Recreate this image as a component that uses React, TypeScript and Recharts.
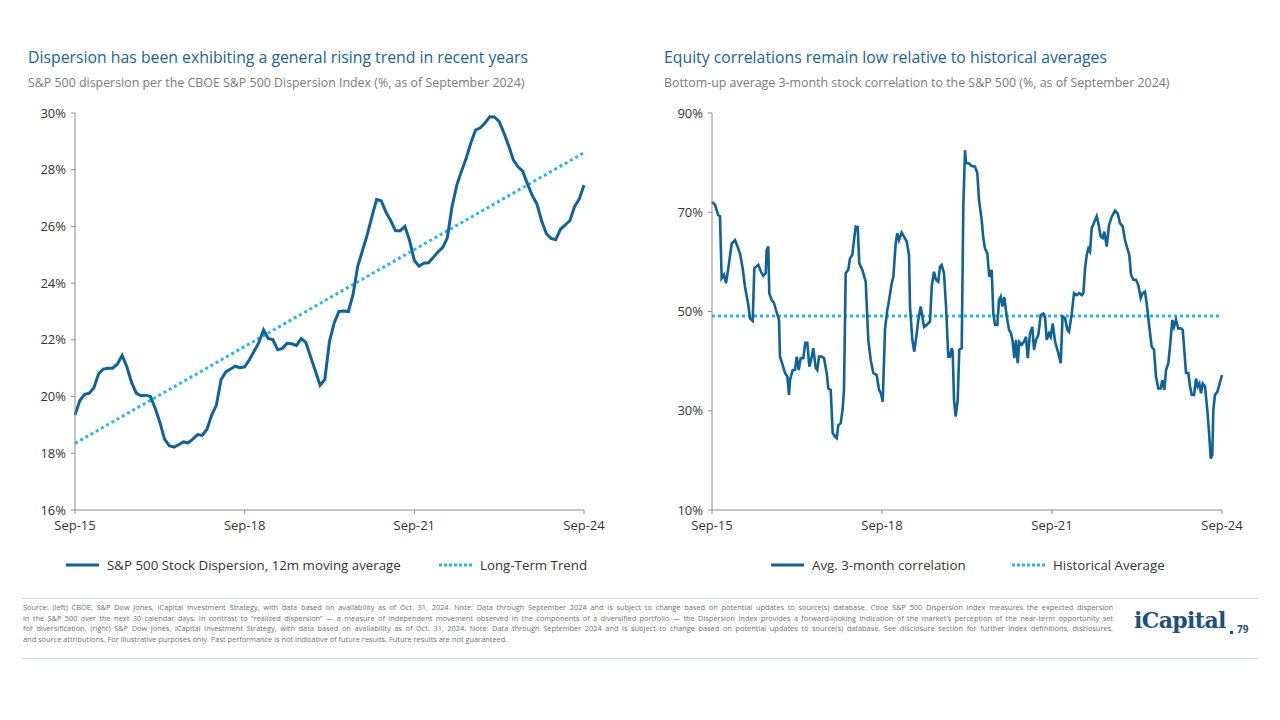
import React from "react";
import { LineChart, Line, XAxis, YAxis } from "recharts";

// ---------- Left chart data (monthly, Sep-15 .. Sep-24) ----------
const dispersionValues: number[] = [
  19.35, 19.85, 20.07, 20.12, 20.3, 20.8, 20.97, 21.0, 21.0, 21.15,
  21.45, 21.05, 20.5, 20.12, 20.03, 20.05, 20.0, 19.6, 19.1, 18.5,
  18.27, 18.22, 18.3, 18.4, 18.37, 18.5, 18.66, 18.63, 18.85, 19.35,
  19.7, 20.6, 20.87, 20.97, 21.07, 21.02, 21.05, 21.3, 21.6, 21.9,
  22.35, 22.05, 22.0, 21.65, 21.7, 21.88, 21.86, 21.8, 22.05, 21.9,
  21.4, 20.9, 20.4, 20.6, 21.95, 22.6, 23.0, 23.02, 23.0, 23.6,
  24.6, 25.15, 25.7, 26.35, 26.95, 26.9, 26.5, 26.2, 25.85, 25.85,
  26.0, 25.5, 24.8, 24.6, 24.7, 24.72, 24.9, 25.1, 25.25, 25.6,
  26.7, 27.45, 27.95, 28.4, 28.95, 29.4, 29.48, 29.65, 29.87, 29.86,
  29.7, 29.3, 28.85, 28.35, 28.1, 27.95, 27.5, 27.1, 26.8, 26.2,
  25.75, 25.58, 25.53, 25.9, 26.05, 26.2, 26.7, 26.97, 27.46,
];
const trendStart = 18.35;
const trendEnd = 28.6;

// ---------- Right chart data (irregular sample dates, months since Sep-15) ----------
const corrMonths: number[] = [
  0, 0.64, 1.0, 1.33, 1.69, 2.05, 2.54, 2.96, 3.45, 4.17,
  4.87, 5.36, 5.93, 6.5, 6.99, 7.69, 8.05, 8.62, 8.96, 9.81,
  10.38, 10.86, 11.37, 11.58, 11.92, 12.13, 12.64, 13.13, 13.55, 14.19,
  14.4, 14.97, 15.46, 15.95, 16.31, 16.52, 17.09, 17.58, 17.94, 18.36,
  18.78, 19.33, 19.76, 20.18, 20.61, 20.97, 21.45, 21.96, 22.3, 22.66,
  23.23, 23.72, 24.29, 24.63, 25.14, 25.56, 26.05, 26.41, 26.75, 27.26,
  27.68, 27.95, 28.31, 28.86, 29.22, 29.71, 30.07, 30.43, 30.86, 31.19,
  31.83, 32.55, 33.1, 33.61, 34.16, 34.88, 35.37, 35.79, 36.15, 36.64,
  37.12, 37.33, 38.06, 38.4, 38.9, 39.24, 39.6, 40.17, 40.66, 41.23,
  41.72, 41.93, 42.42, 42.84, 43.35, 43.69, 44.2, 44.54, 44.9, 45.47,
  46.17, 46.53, 47.01, 47.44, 47.92, 48.28, 48.64, 49.13, 49.56, 50.04,
  50.4, 50.76, 50.97, 51.25, 51.61, 52.03, 52.37, 52.88, 53.22, 53.58,
  53.79, 54.28, 55.0, 55.7, 56.18, 56.54, 57.11, 57.45, 57.81, 58.3,
  58.72, 59.23, 59.57, 59.93, 60.42, 60.78, 61.14, 61.48, 61.9, 62.41,
  62.9, 63.32, 63.68, 64.02, 64.38, 64.74, 65.08, 65.59, 66.07, 66.5,
  66.86, 67.35, 67.83, 68.19, 68.62, 69.1, 69.61, 70.16, 70.52, 70.88,
  71.37, 71.73, 72.15, 72.64, 73.34, 73.85, 74.23, 74.76, 75.25, 75.61,
  76.18, 76.67, 77.24, 77.79, 78.3, 78.64, 79.0, 79.36, 79.7, 80.05,
  80.41, 80.9, 81.47, 81.81, 82.32, 82.74, 83.08, 83.59, 84.07, 84.65,
  85.35, 85.92, 86.4, 86.98, 87.46, 87.95, 88.37, 88.73, 89.22, 89.79,
  90.28, 90.79, 91.21, 91.7, 92.18, 92.6, 93.11, 93.6, 94.02, 94.51,
  95.02, 95.36, 95.79, 96.15, 96.63, 96.99, 97.48, 97.84, 98.26, 98.75,
  99.26, 99.68, 99.96, 100.38, 100.87, 101.23, 101.59, 102.08, 102.5, 102.86,
  103.2, 103.56, 103.92, 104.4, 104.89, 105.32, 105.61, 105.95, 106.16, 106.52,
  107.01, 107.43, 108,
];
const corrValues: number[] = [
  72.1, 71.5, 70.4, 69.4, 69.2, 56.7, 57.4, 55.7, 58.7, 63.7,
  64.4, 63.2, 61.7, 58.7, 55.0, 51.3, 48.6, 48.1, 58.7, 59.4,
  58.0, 57.2, 57.7, 62.4, 63.1, 53.7, 52.3, 51.7, 50.3, 48.3,
  40.9, 39.2, 37.6, 36.9, 33.2, 36.2, 38.2, 38.2, 40.9, 38.2,
  40.6, 40.6, 43.7, 43.7, 38.9, 40.2, 42.6, 38.6, 38.2, 40.9,
  40.9, 40.6, 37.6, 34.5, 34.2, 25.5, 24.8, 24.5, 27.1, 27.5,
  30.5, 34.2, 57.7, 58.4, 60.7, 61.4, 64.4, 67.1, 67.0, 59.7,
  58.4, 56.0, 44.3, 40.2, 37.6, 37.2, 34.2, 33.5, 31.8, 46.5,
  50.3, 51.3, 55.7, 57.0, 63.7, 65.8, 64.4, 65.9, 65.1, 64.1,
  61.4, 51.0, 44.3, 41.9, 45.6, 48.3, 51.0, 49.0, 46.9, 47.3,
  48.0, 55.0, 58.0, 56.4, 56.0, 59.0, 59.4, 57.7, 51.0, 40.9,
  40.9, 42.6, 41.9, 32.2, 28.8, 32.2, 42.3, 42.6, 71.1, 82.5,
  79.9, 79.9, 79.3, 79.2, 77.9, 72.5, 68.4, 64.8, 62.7, 61.7,
  57.0, 58.4, 49.6, 47.3, 47.3, 52.3, 53.0, 51.0, 52.9, 49.0,
  46.3, 45.6, 43.9, 40.6, 44.3, 39.6, 43.9, 43.3, 43.9, 44.9,
  40.6, 45.6, 46.9, 42.3, 44.3, 45.3, 49.3, 49.6, 49.0, 44.3,
  45.6, 44.9, 47.6, 44.0, 41.6, 39.6, 49.0, 48.7, 46.3, 45.9,
  49.6, 53.7, 53.3, 53.7, 53.3, 53.7, 58.7, 61.4, 62.7, 62.1,
  66.8, 67.9, 69.2, 67.8, 65.1, 64.8, 66.1, 63.1, 67.4, 69.1,
  70.3, 69.7, 67.8, 67.1, 64.4, 62.7, 61.4, 57.4, 56.4, 56.4,
  55.3, 52.7, 53.7, 54.0, 50.6, 46.9, 42.9, 42.3, 36.9, 34.5,
  34.5, 36.2, 34.2, 38.2, 39.6, 42.9, 48.3, 46.9, 48.3, 46.6,
  46.6, 46.3, 42.9, 37.6, 37.6, 34.9, 33.2, 33.2, 36.5, 34.9,
  35.5, 33.5, 35.5, 34.9, 30.2, 24.8, 20.4, 21.1, 30.2, 33.2,
  33.8, 35.2, 37.2,
];
const historicalAverage = 49.1;

// ---------- Axis labels ----------
const xTickMonths = [0, 36, 72, 108];
const xTickLabels = ["Sep-15", "Sep-18", "Sep-21", "Sep-24"];
const leftYTicks = [16, 18, 20, 22, 24, 26, 28, 30];
const rightYTicks = [10, 30, 50, 70, 90];

const leftTitle = "Dispersion has been exhibiting a general rising trend in recent years";
const leftSubtitle = "S&P 500 dispersion per the CBOE S&P 500 Dispersion Index (%, as of September 2024)";
const rightTitle = "Equity correlations remain low relative to historical averages";
const rightSubtitle = "Bottom-up average 3-month stock correlation to the S&P 500 (%, as of September 2024)";
const leftLegend = ["S&P 500 Stock Dispersion, 12m moving average", "Long-Term Trend"];
const rightLegend = ["Avg. 3-month correlation", "Historical Average"];

const footnoteLines = [
  "Source: (left) CBOE, S&P Dow Jones, iCapital Investment Strategy, with data based on availability as of Oct. 31, 2024. Note: Data through September 2024 and is subject to change based on potential updates to source(s) database. Cboe S&P 500 Dispersion index measures the expected dispersion",
  "in the S&P 500 over the next 30 calendar days. In contrast to \u201crealized dispersion\u201d \u2014 a measure of independent movement observed in the components of a diversified portfolio \u2014 the Dispersion Index provides a forward-looking indication of the market\u2019s perception of the near-term opportunity set",
  "for diversification. (right) S&P Dow Jones, iCapital Investment Strategy, with data based on availability as of Oct. 31, 2024. Note: Data through September 2024 and is subject to change based on potential updates to source(s) database. See disclosure section for further index definitions, disclosures,",
  "and source attributions. For illustrative purposes only. Past performance is not indicative of future results. Future results are not guaranteed.",
];

// ---------- Build tables ----------
const leftData = dispersionValues.map((v, i) => ({
  m: i,
  v,
  trend: i === 0 ? trendStart : i === dispersionValues.length - 1 ? trendEnd : null,
}));
const rightData = corrMonths.map((m, i) => ({ m, v: corrValues[i], avg: historicalAverage }));

// ---------- Styles ----------
const FONT = "'Open Sans', 'Noto Sans', sans-serif";
const DARK = "#0f6396";
const LIGHT = "#29b6ea";
const TITLE = "#1a6394";
const AXIS = "#8c8c8c";
const TICK_TXT = { fill: "#333", fontSize: 13, fontFamily: FONT };

const fmtX = (v: number) => xTickLabels[xTickMonths.indexOf(v)] ?? "";

function LegendItem({ x, label, dotted }: { x: number; label: string; dotted?: boolean }) {
  return (
    <div style={{ position: "absolute", left: x, top: 556, display: "flex", alignItems: "center", whiteSpace: "nowrap" }}>
      <svg width={36} height={6} style={{ marginRight: 6 }}>
        <line
          x1={1}
          y1={3}
          x2={34}
          y2={3}
          stroke={dotted ? LIGHT : DARK}
          strokeWidth={3}
          strokeDasharray={dotted ? "3 2" : undefined}
        />
      </svg>
      <span style={{ fontFamily: FONT, fontSize: 13.3, color: "#333" }}>{label}</span>
    </div>
  );
}

function Header({ x, title, subtitle }: { x: number; title: string; subtitle: string }) {
  return (
    <>
      <div style={{ position: "absolute", left: x, top: 46, fontFamily: FONT, fontSize: 15.8, fontWeight: 500, color: TITLE, whiteSpace: "nowrap" }}>
        {title}
      </div>
      <div style={{ position: "absolute", left: x, top: 74, fontFamily: FONT, fontSize: 12.4, color: "#7a7a7a", whiteSpace: "nowrap" }}>
        {subtitle}
      </div>
    </>
  );
}

export default function App() {
  return (
    <div style={{ position: "absolute", left: 0, top: 0, width: 1280, height: 720, background: "#fff", overflow: "hidden" }}>
      <Header x={28} title={leftTitle} subtitle={leftSubtitle} />
      <Header x={664} title={rightTitle} subtitle={rightSubtitle} />

      {/* Left chart */}
      <div style={{ position: "absolute", left: 0, top: 100 }}>
        <LineChart width={620} height={480} data={leftData} margin={{ top: 13, right: 36, bottom: 40, left: 15 }}>
          <XAxis
            dataKey="m"
            type="number"
            domain={[0, 108]}
            ticks={xTickMonths}
            tickFormatter={fmtX}
            stroke={AXIS}
            tick={TICK_TXT}
            tickSize={4}
            tickMargin={7}
            height={30}
            interval={0}
          />
          <YAxis
            domain={[16, 30]}
            ticks={leftYTicks}
            tickFormatter={(v: number) => `${v}%`}
            stroke={AXIS}
            tick={TICK_TXT}
            tickSize={4}
            tickMargin={5}
            width={60}
            interval={0}
          />
          <Line
            dataKey="trend"
            stroke={LIGHT}
            strokeWidth={3}
            strokeDasharray="3 3"
            dot={false}
            connectNulls
            isAnimationActive={false}
            type="linear"
          />
          <Line dataKey="v" stroke={DARK} strokeWidth={3} dot={false} isAnimationActive={false} type="linear" />
        </LineChart>
      </div>

      {/* Right chart */}
      <div style={{ position: "absolute", left: 637, top: 100 }}>
        <LineChart width={620} height={480} data={rightData} margin={{ top: 13, right: 35, bottom: 40, left: 15 }}>
          <XAxis
            dataKey="m"
            type="number"
            domain={[0, 108]}
            ticks={xTickMonths}
            tickFormatter={fmtX}
            stroke={AXIS}
            tick={TICK_TXT}
            tickSize={4}
            tickMargin={7}
            height={30}
            interval={0}
          />
          <YAxis
            domain={[10, 90]}
            ticks={rightYTicks}
            tickFormatter={(v: number) => `${v}%`}
            stroke={AXIS}
            tick={TICK_TXT}
            tickSize={4}
            tickMargin={5}
            width={60}
            interval={0}
          />
          <Line
            dataKey="avg"
            stroke={LIGHT}
            strokeWidth={3}
            strokeDasharray="3 3"
            dot={false}
            isAnimationActive={false}
            type="linear"
          />
          <Line dataKey="v" stroke={DARK} strokeWidth={2.6} dot={false} isAnimationActive={false} type="linear" />
        </LineChart>
      </div>

      <LegendItem x={65} label={leftLegend[0]} />
      <LegendItem x={438} label={leftLegend[1]} dotted />
      <LegendItem x={770} label={rightLegend[0]} />
      <LegendItem x={1011} label={rightLegend[1]} dotted />

      {/* Footer */}
      <div style={{ position: "absolute", left: 22, top: 598, width: 1236, height: 1, background: "#d8dde2" }} />
      <div style={{ position: "absolute", left: 22, top: 658, width: 1236, height: 1, background: "#d8dde2" }} />
      <div style={{ position: "absolute", left: 23, top: 602, width: 1090 }}>
        {footnoteLines.map((line, i) => (
          <div
            key={i}
            style={{
              fontFamily: FONT,
              fontSize: 7.4,
              lineHeight: "10.6px",
              color: "#6f6f6f",
              whiteSpace: i < 3 ? "normal" : "nowrap",
              textAlign: "justify",
              textAlignLast: i < 3 ? "justify" : "left",
              height: 10.6,
              overflow: "visible",
            }}
          >
            {line}
          </div>
        ))}
      </div>
      <div
        style={{
          position: "absolute",
          left: 1134,
          top: 607,
          fontFamily: "'DejaVu Serif', serif",
          fontWeight: 700,
          fontSize: 22,
          color: "#1d4f7f",
          whiteSpace: "nowrap",
          letterSpacing: -0.6,
        }}
      >
        iCapital
      </div>
      <div style={{ position: "absolute", left: 1230, top: 631, width: 3, height: 3, background: "#1d4f7f" }} />
      <div style={{ position: "absolute", left: 1237, top: 622, fontFamily: FONT, fontWeight: 700, fontSize: 10, color: "#1d4f7f" }}>
        79
      </div>
    </div>
  );
}
